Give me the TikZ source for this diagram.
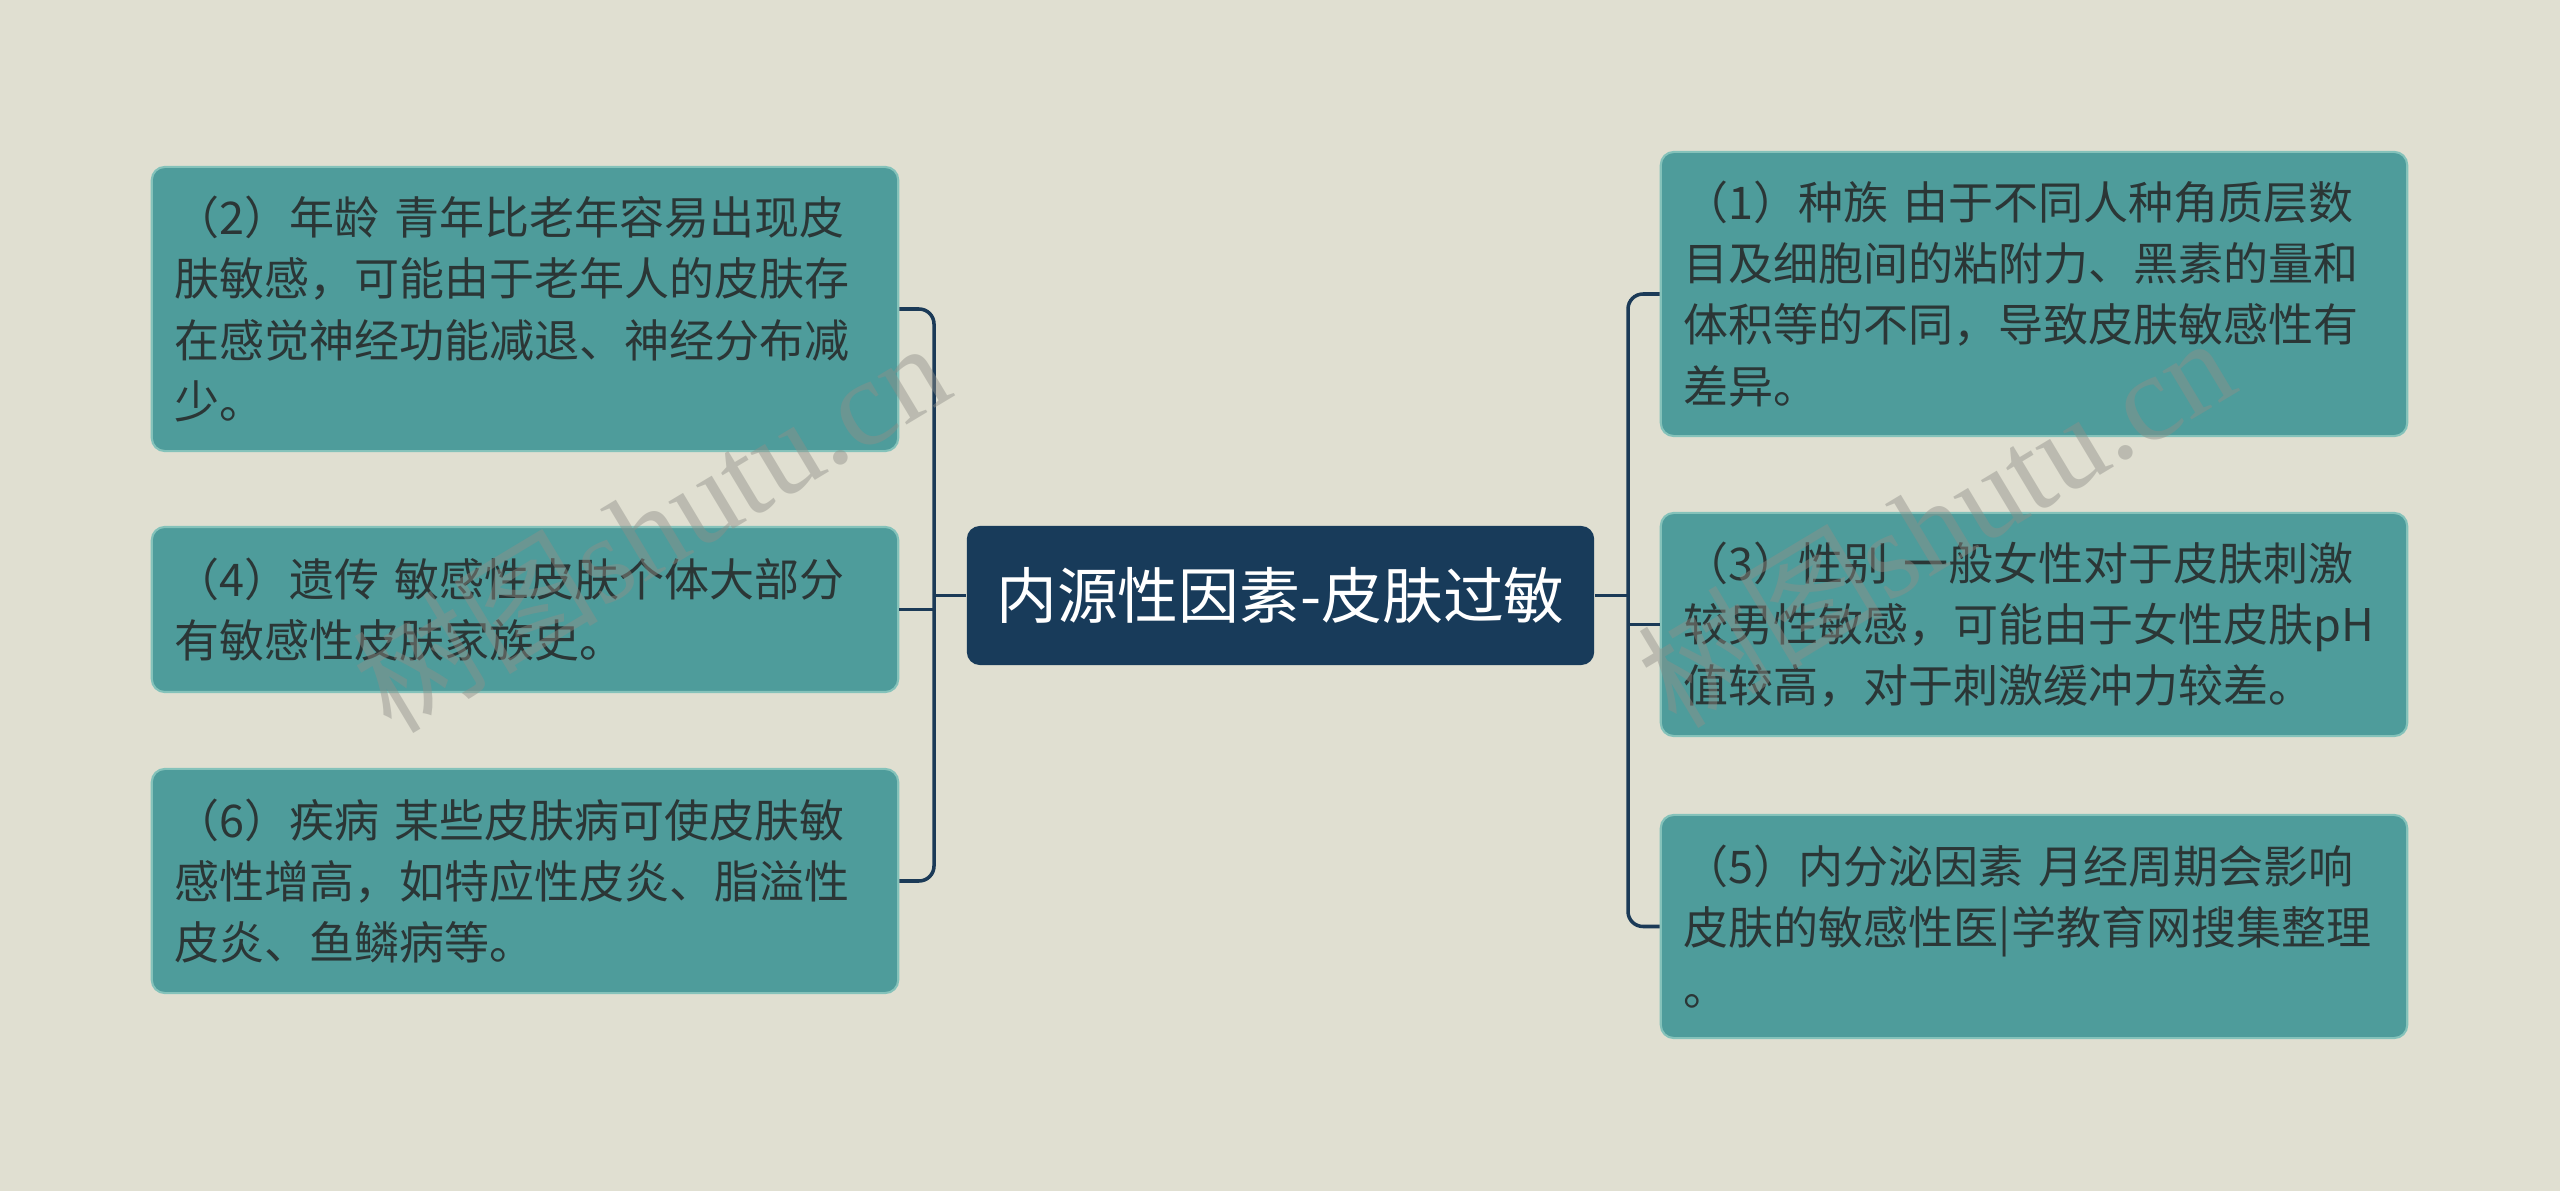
\documentclass[tikz,border=0pt]{standalone}
\usepackage{fontspec}
\setmainfont{Noto Sans CJK SC}
\newfontfamily\wmserif{Liberation Serif}
\usepackage{xcolor}

\definecolor{bgc}{HTML}{E0DFD1}
\definecolor{leafc}{HTML}{4E9C9B}
\definecolor{leafedge}{HTML}{84C2BA}
\definecolor{rootc}{HTML}{183B5A}
\definecolor{linkc}{HTML}{1B3A57}
\definecolor{textc}{HTML}{2B3636}
\definecolor{wmc}{HTML}{8F8F88}

\begin{document}
\begin{tikzpicture}[x=0.01cm,y=-0.01cm,
  leaf/.style={draw=leafedge,line width=0.6pt,fill=leafc,rounded corners=0.13cm,text=textc,
    align=left,text width=7.0cm,inner xsep=0.23cm,inner ysep=0cm,
    font=\fontsize{12.8pt}{17.4pt}\selectfont},
  root/.style={fill=rootc,rounded corners=0.13cm,text=white,minimum width=6.27cm,
    minimum height=1.39cm,inner sep=0pt,font=\fontsize{17.3pt}{20pt}\selectfont},
  link/.style={draw=linkc,line width=1pt,rounded corners=0.15cm},
  wm/.style={text=wmc,opacity=0.45,font=\fontsize{35pt}{35pt}\selectfont,rotate=31}]
  \fill[bgc] (0,0) rectangle (2560,1191);

  \node[root] (root) at (1280.5,595.5) {内源性因素-皮肤过敏};

  \node[leaf,minimum height=2.84cm] (b2) at (525,309) {（2）年龄 青年比老年容易出现皮\\肤敏感，可能由于老年人的皮肤存\\在感觉神经功能减退、神经分布减\\少。};
  \node[leaf,minimum height=1.65cm] (b4) at (525,609.5) {（4）遗传 敏感性皮肤个体大部分\\有敏感性皮肤家族史。};
  \node[leaf,minimum height=2.24cm] (b6) at (525,881) {（6）疾病 某些皮肤病可使皮肤敏\\感性增高，如特应性皮炎、脂溢性\\皮炎、鱼鳞病等。};

  \node[leaf,minimum height=2.84cm] (b1) at (2034,294) {（1）种族 由于不同人种角质层数\\目及细胞间的粘附力、黑素的量和\\体积等的不同，导致皮肤敏感性有\\差异。};
  \node[leaf,minimum height=2.23cm] (b3) at (2034,624.5) {（3）性别 一般女性对于皮肤刺激\\较男性敏感，可能由于女性皮肤pH\\值较高，对于刺激缓冲力较差。};
  \node[leaf,minimum height=2.23cm] (b5) at (2034,926.5) {（5）内分泌因素 月经周期会影响\\皮肤的敏感性医|学教育网搜集整理\\。};

  \coordinate (lj) at (934,595.5);
  \coordinate (rj) at (1628,595.5);

  \draw[link] (root.west) -- (lj);
  \draw[link] (b2.east) -| (lj) |- (b6.east);
  \draw[link] (b4.east) -- (b4.east -| lj);

  \draw[link] (root.east) -- (rj);
  \draw[link] (b1.west) -| (rj) |- (b5.west);
  \draw[link] (b3.west) -- (b3.west -| rj);

  \node[wm] (wml) at (650,525) {树图{\wmserif shutu.cn}};
  \node[wm] (wmr) at (1935,520) {树图{\wmserif shutu.cn}};
\end{tikzpicture}
\end{document}
